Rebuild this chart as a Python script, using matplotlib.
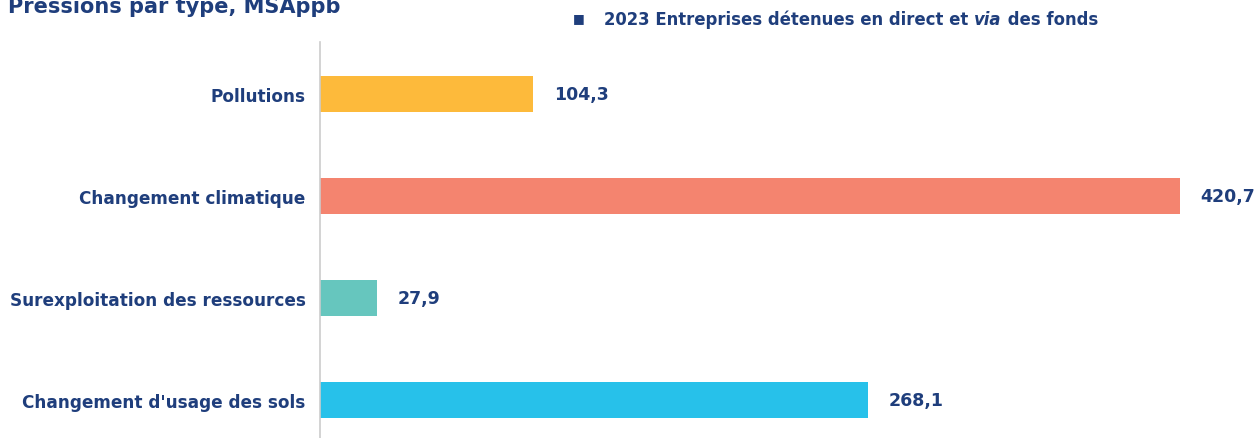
import matplotlib.pyplot as plt

categories = ["Pollutions", "Changement climatique",
              "Surexploitation des ressources", "Changement d'usage des sols"]
values = [104.3, 420.7, 27.9, 268.1]
colors = ["#FDBA3B", "#F4846F", "#66C6BE", "#27C1EA"]
navy = "#1F3E7C"

plt.rcParams['font.family'] = 'DejaVu Sans'

fig = plt.figure(figsize=(12.56, 4.39), dpi=100)
ax = fig.add_axes([320 / 1256, 0, 936 / 1256, 396 / 439])

pos = list(range(len(categories)))
ax.barh(pos, values, height=0.353, color=colors)
ax.set_xlim(0, 458)
ax.set_ylim(3.37, -0.51)

for p, v in zip(pos, values):
    ax.annotate(f"{v:.1f}".replace(".", ","), (v, p), xytext=(15, 0),
                textcoords="offset points", va="center", ha="left",
                fontsize=12.5, fontweight="bold", color=navy)

ax.set_yticks(pos)
ax.set_yticklabels(categories, fontsize=12.2, fontweight="bold", color=navy)
ax.tick_params(axis="y", length=0, pad=10.5)
ax.set_xticks([])
for side in ["top", "right", "bottom"]:
    ax.spines[side].set_visible(False)
ax.spines["left"].set_color("#CCCCCC")
ax.spines["left"].set_linewidth(1.2)

fig.text(8 / 1256, 1 - 13 / 439, "Pressions par type, MSAppb", fontsize=15,
         fontweight="bold", color=navy, va="baseline", ha="left")

# legend: marker plus text with an italic "via"
fig.text(573 / 1256, 1 - 19 / 439, "\u25A0", fontsize=9, color=navy,
         va="center", ha="left")
fig.canvas.draw()
renderer = fig.canvas.get_renderer()
x = 604
ly = 1 - 20 / 439
for part, style in [("2023 Entreprises détenues en direct et ", "normal"),
                    ("via", "italic"), (" des fonds", "normal")]:
    t = fig.text(x / 1256, ly, part, fontsize=11.9, fontweight="bold",
                 fontstyle=style, color=navy, va="center", ha="left")
    x += t.get_window_extent(renderer).width

fig.savefig("out.png", dpi=100)
